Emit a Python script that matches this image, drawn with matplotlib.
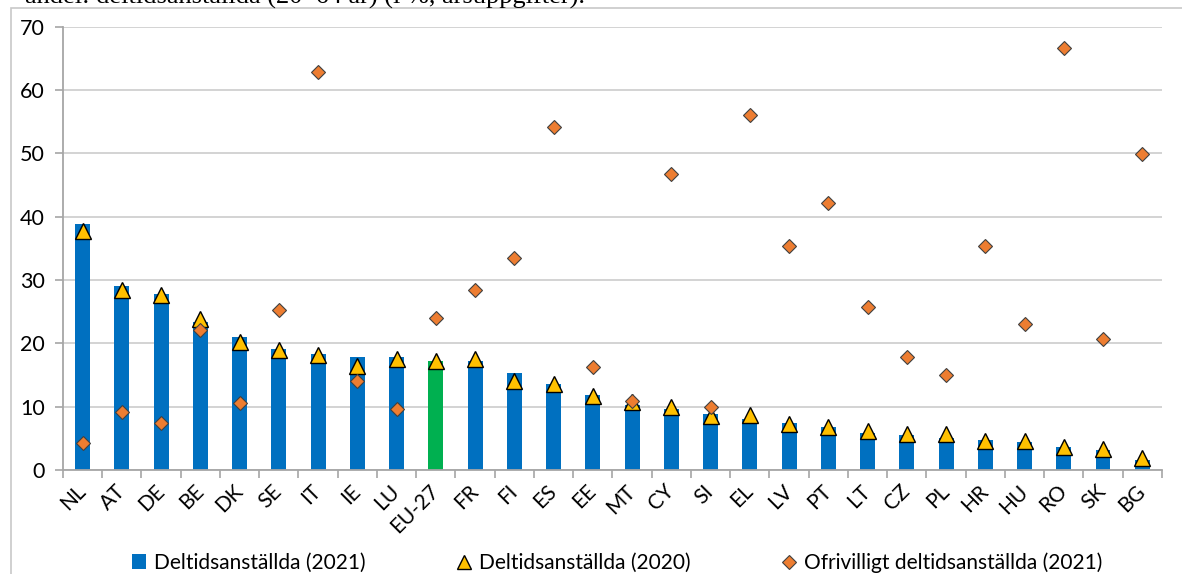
import numpy as np
import matplotlib.pyplot as plt
import matplotlib.transforms as mtransforms
from matplotlib.patches import Patch, Rectangle
from matplotlib.lines import Line2D

countries = ['NL', 'AT', 'DE', 'BE', 'DK', 'SE', 'IT', 'IE', 'LU', 'EU-27', 'FR', 'FI', 'ES',
             'EE', 'MT', 'CY', 'SI', 'EL', 'LV', 'PT', 'LT', 'CZ', 'PL', 'HR', 'HU', 'RO', 'SK', 'BG']
parttime_2021 = [38.8, 29.1, 27.8, 23.4, 21.0, 19.1, 18.4, 17.9, 17.8, 17.3, 17.2, 15.3, 13.6,
                 11.8, 10.2, 9.6, 8.8, 8.1, 7.5, 6.8, 5.8, 5.6, 5.1, 4.7, 4.4, 3.6, 3.1, 1.6]
parttime_2020 = [37.8, 28.4, 27.7, 23.8, 20.3, 18.9, 18.2, 16.4, 17.6, 17.2, 17.6, 14.0, 13.6,
                 11.7, 10.8, 9.9, 8.6, 8.7, 7.2, 6.8, 6.1, 5.7, 5.7, 4.6, 4.6, 3.6, 3.3, 1.9]
involuntary_2021 = [4.3, 9.2, 7.4, 22.1, 10.6, 25.3, 62.9, 14.1, 9.6, 24.0, 28.4, 33.5, 54.1,
                    16.3, 10.9, 46.7, 10.0, 56.0, 35.3, 42.2, 25.7, 17.9, 15.0, 35.4, 23.0, 66.6, 20.7, 49.9]

blue = '#0070C0'
green = '#00B050'
yellow = '#FFC000'
orange = '#ED7D31'

plt.rcParams['font.family'] = ['Lato', 'DejaVu Sans']

fig = plt.figure(figsize=(11.82, 5.74), dpi=100)
ax = fig.add_axes([0.0533, 0.181, 0.9297, 0.7725])

x = np.arange(len(countries))
colors = [green if c == 'EU-27' else blue for c in countries]
ax.bar(x, parttime_2021, width=0.38, color=colors, zorder=2)
ax.plot(x, parttime_2020, linestyle='none', marker='^', ms=11, mfc=yellow, mec='black',
        mew=1.0, zorder=3)
ax.plot(x, involuntary_2021, linestyle='none', marker='D', ms=7, mfc=orange, mec='#404040',
        mew=0.8, zorder=4)

ax.set_xlim(-0.5, len(countries) - 0.5)
ax.set_ylim(0, 70)
ax.set_yticks(range(0, 71, 10))
ax.yaxis.grid(True, color='#D0D0D0', linewidth=1.3, zorder=0)
ax.set_axisbelow(True)

for s in ['top', 'right']:
    ax.spines[s].set_visible(False)
ax.spines['left'].set_color('#A6A6A6')
ax.spines['bottom'].set_color('#A6A6A6')
ax.spines['left'].set_linewidth(1.3)
ax.spines['bottom'].set_linewidth(1.3)

ax.set_xticks(x)
ax.set_xticklabels(countries, rotation=45, ha='right', va='center', rotation_mode='anchor',
                   fontsize=15)
# nudge the rotated labels a little to the right
shift = mtransforms.ScaledTranslation(4 / 100, 0, fig.dpi_scale_trans)
for lbl in ax.get_xticklabels():
    lbl.set_transform(lbl.get_transform() + shift)
ax.set_xticks(np.arange(-0.5, len(countries), 1), minor=True)
ax.tick_params(axis='x', which='major', length=0, pad=13)
ax.tick_params(axis='x', which='minor', length=6, color='#A6A6A6', width=1.2)
ax.tick_params(axis='y', length=6, color='#A6A6A6', width=1.2, pad=7, labelsize=15.5)

handles = [Patch(facecolor=blue),
           Line2D([], [], linestyle='none', marker='^', ms=10, mfc=yellow, mec='black', mew=1.0),
           Line2D([], [], linestyle='none', marker='D', ms=7, mfc=orange, mec='#404040', mew=0.8)]
labels = ['Deltidsanställda (2021)', 'Deltidsanställda (2020)',
          'Ofrivilligt deltidsanställda (2021)']
fig.legend(handles, labels, loc='center', bbox_to_anchor=(0.522, 0.02), ncol=3, frameon=False,
           fontsize=15, columnspacing=4.4, handlelength=0.7, handletextpad=0.35,
           handleheight=0.7)

# outer frame and clipped caption at the top
fig.patches.append(Rectangle((11 / 1182, -0.1), 1.2, (574 - 8) / 574 + 0.1,
                             transform=fig.transFigure, fill=False, edgecolor='#C8C8C8',
                             linewidth=1.2))
fig.text(585 / 1182, 1 - 4 / 574, 'andel: deltidsanställda (20–64 år) (i %, årsuppgifter).',
         ha='right', va='baseline', fontsize=19, family='Liberation Serif')

fig.savefig('out.png', dpi=100)
